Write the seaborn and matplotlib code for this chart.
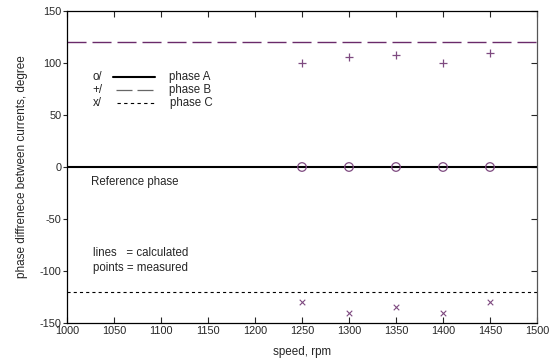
import matplotlib
matplotlib.use("Agg")
import matplotlib.pyplot as plt
import seaborn as sns
import pandas as pd

# calculated phase angles (constant over the speed range)
calc_speed = [1000, 1500]
calc_phase_a = [0, 0]
calc_phase_b = [120, 120]
calc_phase_c = [-120, -120]

# measured phase angles
meas_speed = [1250, 1300, 1350, 1400, 1450]
meas_phase_a = [0, 0, 0, 0, 0]
meas_phase_b = [100, 106, 108, 100, 110]
meas_phase_c = [-130, -140, -135, -140, -130]

x_ticks = [1000, 1050, 1100, 1150, 1200, 1250, 1300, 1350, 1400, 1450, 1500]
y_ticks = [-150, -100, -50, 0, 50, 100, 150]

sns.set_style("ticks")
plt.rcParams["font.family"] = ["Liberation Sans", "DejaVu Sans"]
plt.rcParams["axes.unicode_minus"] = False

PURPLE = "#6a2a6a"
MARK = "#7e4a80"

fig = plt.figure(figsize=(5.56, 3.61), dpi=100)
ax = fig.add_axes([67 / 556, 1 - 323 / 361, 470 / 556, 312 / 361])

calc = pd.DataFrame({"speed": calc_speed, "A": calc_phase_a,
                     "B": calc_phase_b, "C": calc_phase_c})
meas = pd.DataFrame({"speed": meas_speed, "A": meas_phase_a,
                     "B": meas_phase_b, "C": meas_phase_c})

sns.lineplot(data=calc, x="speed", y="A", ax=ax, color="black", lw=1.5)
sns.lineplot(data=calc, x="speed", y="B", ax=ax, color=PURPLE, lw=1.0,
             dashes=False, linestyle=(0, (13.7, 4.3)))
sns.lineplot(data=calc, x="speed", y="C", ax=ax, color="black", lw=0.8,
             linestyle=(0, (2.8, 2.8)))

sns.scatterplot(data=meas, x="speed", y="A", ax=ax, marker="o", s=38,
                facecolor="none", edgecolor=MARK, linewidth=0.9, zorder=5)
sns.scatterplot(data=meas, x="speed", y="B", ax=ax, marker="+", s=40,
                color=MARK, linewidth=0.9, zorder=5)
sns.scatterplot(data=meas, x="speed", y="C", ax=ax, marker="x", s=16,
                color=MARK, linewidth=0.8, zorder=5)

ax.set_xlim(1000, 1500)
ax.set_ylim(-150, 150)
ax.set_xticks(x_ticks)
ax.set_yticks(y_ticks)
ax.tick_params(axis="x", direction="in", top=True, length=4, width=0.8,
               labelsize=7.8, pad=2)
ax.tick_params(axis="y", direction="out", right=False, length=3, width=0.8,
               labelsize=7.8, pad=1)
ax.secondary_yaxis("right").tick_params(direction="in", length=4, width=0.8,
                                         labelright=False)
for side in ["top", "bottom", "left"]:
    ax.spines[side].set_color("black")
    ax.spines[side].set_linewidth(0.9)
ax.spines["right"].set_color("#555555")

ax.set_xlabel("speed, rpm", fontsize=8.4, labelpad=7)
ax.set_ylabel("phase diffrenece between currents, degree", fontsize=8.5,
              labelpad=8)

# legend drawn as annotations
fs = 8.3
ax.text(1027, 86.5, "o/", fontsize=fs, va="center")
ax.plot([1049, 1094], [86.5, 86.5], color="black", lw=1.5)
ax.text(1108, 86.5, "phase A", fontsize=fs, va="center")
ax.text(1027, 74, "+/", fontsize=fs, va="center")
ax.plot([1052, 1091], [74, 74], color="#666666", lw=0.9,
        linestyle=(0, (12.8, 4)))
ax.text(1108, 74, "phase B", fontsize=fs, va="center")
ax.text(1027, 61.5, "x/", fontsize=fs, va="center")
ax.plot([1053, 1094], [61.5, 61.5], color="black", lw=0.8,
        linestyle=(0, (3, 3)))
ax.text(1110, 61.5, "phase C", fontsize=fs, va="center")

ax.text(1026, -14.5, "Reference phase", fontsize=fs, va="center")
ax.text(1028, -82.5, "lines   = calculated", fontsize=fs, va="center")
ax.text(1028, -97, "points = measured", fontsize=fs, va="center")

fig.savefig("out.png", dpi=100)
